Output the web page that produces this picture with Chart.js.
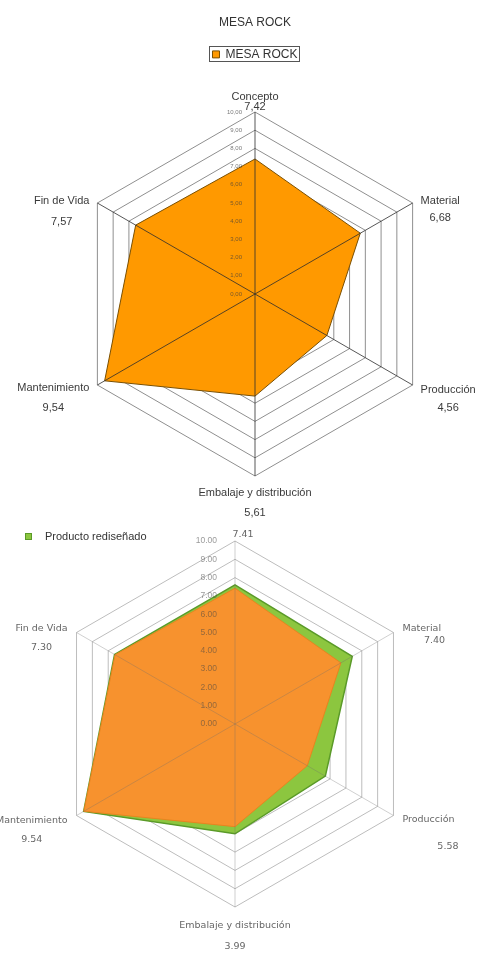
<!DOCTYPE html>
<html>
<head>
<meta charset="utf-8">
<title>MESA ROCK</title>
<script src="https://cdn.jsdelivr.net/npm/chart.js@4.4.1/dist/chart.umd.min.js"></script>
<style>
  html, body { margin: 0; padding: 0; background: #fff; }
  #page { position: relative; width: 477px; height: 958px; overflow: hidden; }
  .box { position: absolute; left: 0; width: 477px; }
  #top-box { top: 0; height: 540px; }
  #bottom-box { top: 500px; height: 458px; }
</style>
</head>
<body>
<div id="page">
  <div class="box" id="bottom-box"><canvas id="chart-bottom"></canvas></div>
  <div class="box" id="top-box"><canvas id="chart-top"></canvas></div>
</div>
<script>
// --- data ---
var CATEGORIES = ['Concepto', 'Material', 'Producción', 'Embalaje y distribución', 'Mantenimiento', 'Fin de Vida'];
var MESA_ROCK = [7.42, 6.68, 4.56, 5.61, 9.54, 7.57];
var REDESIGNED = [7.6, 7.4, 5.7, 6.0, 9.55, 7.6];
var REDESIGNED_LABELS = ['7.41', '7.40', '5.58', '3.99', '9.54', '7.30'];
var R_MIN = 0;
var R_MAX = 10;
var R_STEP = 1;

Chart.defaults.font.family = '"Liberation Sans", Arial, sans-serif';
Chart.defaults.animation = false;

function fmt(v, sep) {
  return v.toFixed(2).replace('.', sep);
}

/**
 * Draws spokes, tick values and the two-line category labels
 * on top of the filled areas (the library puts them underneath).
 */
function radarOverlay(o) {
  return {
    id: 'radarOverlay',
    afterDatasetsDraw: function (chart) {
      var scale = chart.scales.r;
      var ctx = chart.ctx;
      var n = chart.data.labels.length;
      var cx = scale.xCenter, cy = scale.yCenter;
      ctx.save();

      ctx.strokeStyle = o.spokeColor;
      ctx.lineWidth = 1;
      for (var i = 0; i < n; i++) {
        var p = scale.getPointPositionForValue(i, scale.max);
        ctx.beginPath();
        ctx.moveTo(cx, cy);
        ctx.lineTo(p.x, p.y);
        ctx.stroke();
      }

      ctx.font = o.tickFont;
      ctx.fillStyle = o.tickColor;
      ctx.textAlign = 'right';
      ctx.textBaseline = 'middle';
      scale.ticks.forEach(function (t) {
        var y = cy - scale.getDistanceFromCenterForValue(t.value);
        ctx.fillText(fmt(t.value, o.decimal), cx - o.tickOffset, y);
      });

      ctx.font = o.labelFont;
      ctx.fillStyle = o.labelColor;
      for (var j = 0; j < n; j++) {
        var v = scale.getPointPositionForValue(j, scale.max);
        var name = o.hideName.indexOf(j) >= 0 ? '' : o.names[j];
        var value = o.values[j];
        var w = Math.max(ctx.measureText(name).width, ctx.measureText(value).width);
        var left;
        if (v.x > cx + 1) left = v.x + o.gap;
        else if (v.x < cx - 1) left = v.x - o.gap - w;
        else left = v.x - w / 2;
        left += o.dx[j];

        if (name) {
          ctx.textAlign = 'center';
          ctx.fillText(name, left + w / 2, v.y + o.nameDy[j]);
        }
        if (o.valueEndRight && v.x > cx + 1) {
          ctx.textAlign = 'right';
          ctx.fillText(value, left + w + 4, v.y + o.valueDy[j]);
        } else {
          ctx.textAlign = 'center';
          ctx.fillText(value, left + w / 2, v.y + o.valueDy[j]);
        }
      }
      ctx.restore();
    }
  };
}

/** Thin frame round the legend item of the top chart. */
var legendFrame = {
  id: 'legendFrame',
  afterDraw: function (chart) {
    var boxes = chart.legend && chart.legend.legendHitBoxes;
    if (!boxes || !boxes.length) return;
    var b = boxes[0];
    var ctx = chart.ctx;
    ctx.save();
    ctx.strokeStyle = '#555';
    ctx.lineWidth = 1;
    ctx.strokeRect(Math.round(b.left - 3) + 0.5, Math.round(b.top - 2) + 0.5,
      Math.round(b.width + 5), Math.round(b.height + 3));
    ctx.restore();
  }
};

/** Legend of the lower chart: only the redesigned product, top-left. */
var cornerLegend = {
  id: 'cornerLegend',
  afterDraw: function (chart) {
    var ds = chart.data.datasets[1];
    var ctx = chart.ctx;
    ctx.save();
    ctx.fillStyle = ds.backgroundColor;
    ctx.strokeStyle = ds.borderColor;
    ctx.lineWidth = 1;
    ctx.fillRect(25, 33, 7, 7);
    ctx.strokeRect(25.5, 33.5, 6, 6);
    ctx.font = '11px "Liberation Sans", Arial, sans-serif';
    ctx.fillStyle = '#333';
    ctx.textAlign = 'left';
    ctx.textBaseline = 'middle';
    ctx.fillText(ds.label, 45, 37);
    ctx.restore();
  }
};

function radarScale(gridColor) {
  return {
    r: {
      min: R_MIN,
      max: R_MAX,
      ticks: { display: false, stepSize: R_STEP },
      grid: { color: gridColor, lineWidth: 1 },
      angleLines: { display: false },
      pointLabels: { display: false }
    }
  };
}

// --- top chart: MESA ROCK ---
new Chart(document.getElementById('chart-top').getContext('2d'), {
  type: 'radar',
  data: {
    labels: CATEGORIES,
    datasets: [{
      label: 'MESA ROCK',
      data: MESA_ROCK,
      fill: true,
      backgroundColor: '#FF9900',
      borderColor: '#7a4f00',
      borderWidth: 1,
      pointRadius: 0,
      tension: 0
    }]
  },
  options: {
    responsive: true,
    maintainAspectRatio: false,
    layout: { padding: { left: 73, right: 40, top: 0, bottom: 22 } },
    plugins: {
      title: {
        display: true,
        text: 'MESA ROCK',
        color: '#333',
        font: { size: 12, weight: 'normal' },
        padding: { top: 15, bottom: 11 }
      },
      legend: {
        display: true,
        position: 'top',
        labels: {
          boxWidth: 7,
          boxHeight: 7,
          color: '#333',
          font: { size: 12 },
          padding: 8
        }
      },
      tooltip: { enabled: false }
    },
    scales: radarScale('#8f8f8f')
  },
  plugins: [legendFrame, radarOverlay({
    names: CATEGORIES,
    values: MESA_ROCK.map(function (v) { return fmt(v, ','); }),
    hideName: [],
    decimal: ',',
    spokeColor: 'rgba(45,45,45,0.8)',
    tickFont: '6px "Liberation Sans", Arial, sans-serif',
    tickColor: 'rgba(60,60,60,0.7)',
    tickOffset: 13,
    labelFont: '11px "Liberation Sans", Arial, sans-serif',
    labelColor: '#3a3a3a',
    gap: 8,
    dx: [0, 0, 0, 0, 0, 0],
    nameDy: [-15, -2, 5, 17, 3, -2],
    valueDy: [-5, 15, 23, 37, 23, 19],
    valueEndRight: false
  })]
});

// --- bottom chart: original vs redesigned ---
new Chart(document.getElementById('chart-bottom').getContext('2d'), {
  type: 'radar',
  data: {
    labels: CATEGORIES,
    datasets: [{
      label: 'MESA ROCK',
      data: MESA_ROCK,
      fill: true,
      backgroundColor: '#F7922E',
      borderColor: '#E8841F',
      borderWidth: 1,
      pointRadius: 0,
      tension: 0
    }, {
      label: 'Producto rediseñado',
      data: REDESIGNED,
      fill: true,
      backgroundColor: '#8CC63F',
      borderColor: '#5A9A28',
      borderWidth: 1.5,
      pointRadius: 0,
      tension: 0
    }]
  },
  options: {
    responsive: true,
    maintainAspectRatio: false,
    layout: { padding: { left: 20, right: 27, top: 41, bottom: 50 } },
    plugins: {
      legend: { display: false },
      tooltip: { enabled: false }
    },
    scales: radarScale('#bdbdbd')
  },
  plugins: [cornerLegend, radarOverlay({
    names: CATEGORIES,
    values: REDESIGNED_LABELS,
    hideName: [0],
    decimal: '.',
    spokeColor: 'rgba(110,110,110,0.32)',
    tickFont: '8.5px "Liberation Sans", Arial, sans-serif',
    tickColor: 'rgba(70,70,70,0.55)',
    tickOffset: 18,
    labelFont: '9.5px "DejaVu Sans", sans-serif',
    labelColor: '#666',
    gap: 9,
    dx: [8, 0, 0, 0, 0, 0],
    nameDy: [0, -4, 4, 19, 5, -4],
    valueDy: [-6, 8, 31, 40, 24, 15],
    valueEndRight: true
  })]
});
</script>
</body>
</html>
